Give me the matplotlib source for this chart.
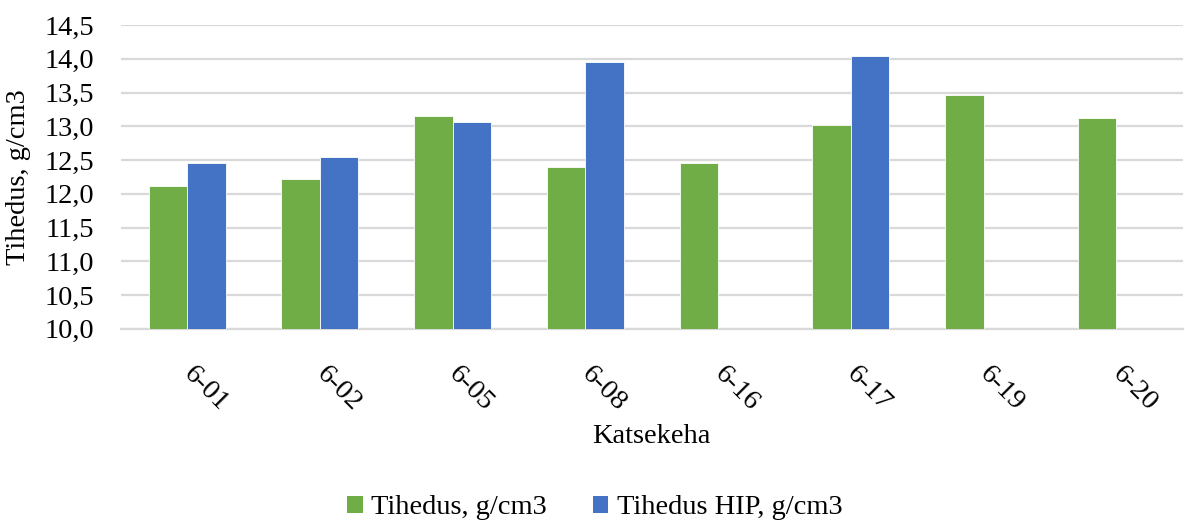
import matplotlib
matplotlib.use("Agg")
import matplotlib.pyplot as plt
import numpy as np
from matplotlib.patches import Patch

categories = ["6-01", "6-02", "6-05", "6-08", "6-16", "6-17", "6-19", "6-20"]
tihedus = [12.12, 12.22, 13.16, 12.40, 12.46, 13.02, 13.46, 13.13]
tihedus_hip = [12.45, 12.55, 13.07, 13.95, np.nan, 14.04, np.nan, np.nan]
y_ticks = [10.0, 10.5, 11.0, 11.5, 12.0, 12.5, 13.0, 13.5, 14.0, 14.5]

GREEN = "#70AD47"
BLUE = "#4472C4"
GRID = "#D9D9D9"
FONT = "Liberation Serif"
FS = 20.5

plt.rcParams["font.family"] = [FONT, "DejaVu Serif"]

fig = plt.figure(figsize=(11.85, 5.22), dpi=100)
ax = fig.add_axes([0.102, 0.370, 0.896, 0.582])

x = np.arange(len(categories))
w = 0.29
base = 10.0
ax.bar(x - w / 2, np.array(tihedus) - base, width=w, bottom=base,
       color=GREEN, edgecolor="white", linewidth=0.6, zorder=3)
ax.bar(x + w / 2, np.array(tihedus_hip) - base, width=w, bottom=base,
       color=BLUE, edgecolor="white", linewidth=0.6, zorder=3)

ax.set_xlim(-0.5, len(categories) - 0.5)
ax.set_ylim(10.0, 14.5)
ax.set_yticks(y_ticks)
ax.set_yticklabels([f"{v:.1f}".replace(".", ",") for v in y_ticks], fontsize=FS)
ax.set_xticks(x)
ax.set_xticklabels(categories, fontsize=FS, rotation=-45, ha="left",
                   va="center", rotation_mode="anchor")
ax.tick_params(axis="y", length=0, pad=19)
ax.tick_params(axis="x", length=0, pad=30)

ax.grid(axis="y", color=GRID, linewidth=1.6, zorder=0)
ax.set_axisbelow(True)
for s in ["top", "right", "left"]:
    ax.spines[s].set_visible(False)
ax.spines["bottom"].set_color(GRID)
ax.spines["bottom"].set_linewidth(1.6)

ax.set_ylabel("Tihedus, g/cm3", fontsize=FS)
ax.yaxis.set_label_coords(-0.085, 0.5)
fig.text(0.550, 0.163, "Katsekeha", ha="center", va="center", fontsize=FS)

handles = [Patch(facecolor=GREEN, label="Tihedus, g/cm3"),
           Patch(facecolor=BLUE, label="Tihedus HIP, g/cm3")]
fig.legend(handles=handles, loc="center", bbox_to_anchor=(0.502, 0.027),
           ncol=2, frameon=False, fontsize=FS, handlelength=0.55,
           handleheight=0.55, handletextpad=0.3, columnspacing=1.6)

fig.savefig("out.png", dpi=100)
